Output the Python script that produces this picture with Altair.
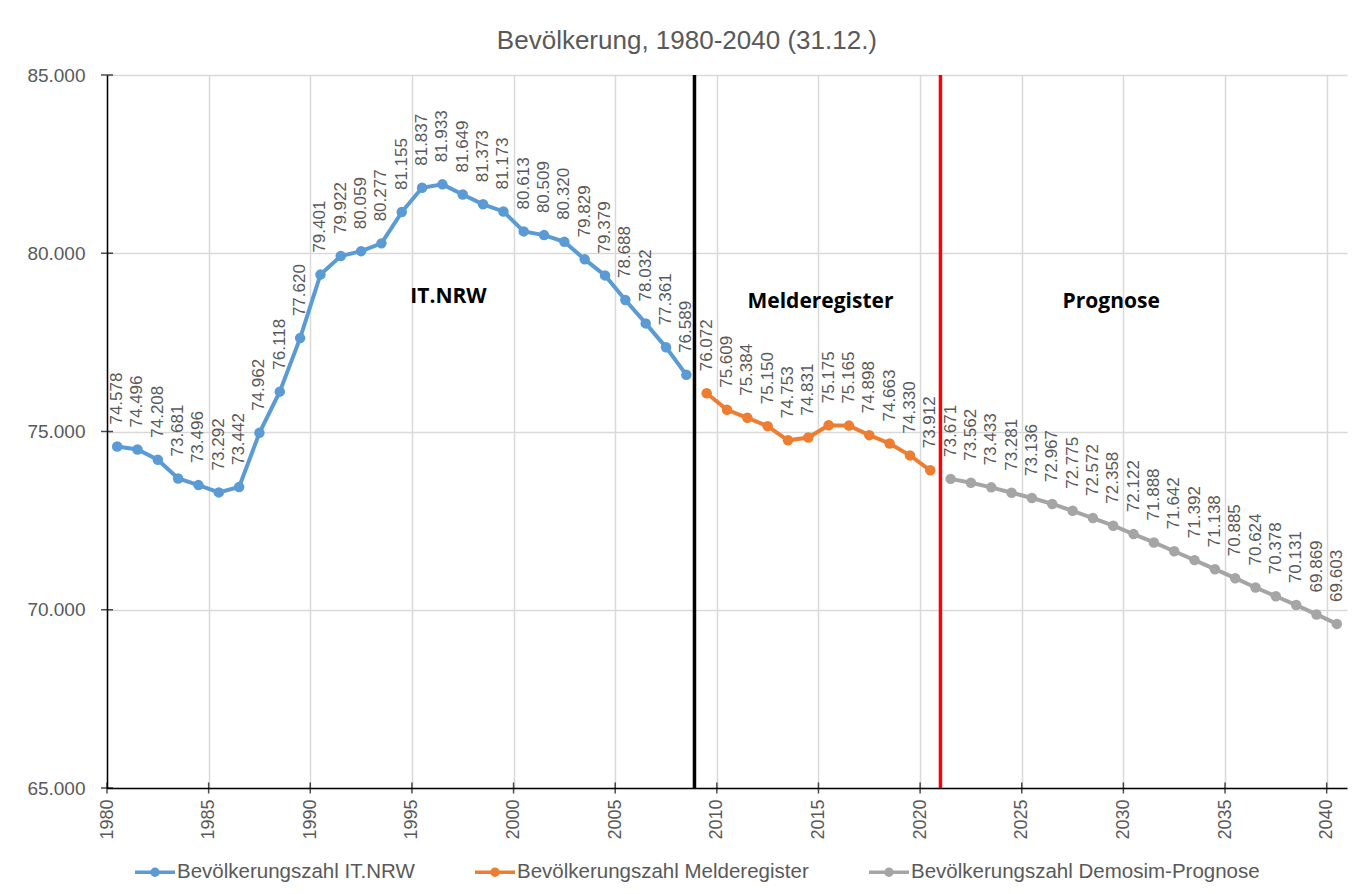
import altair as alt
import pandas as pd

# ---------------- data ----------------
years_itnrw = list(range(1980, 2009))
values_itnrw = [74578, 74496, 74208, 73681, 73496, 73292, 73442, 74962, 76118, 77620,
                79401, 79922, 80059, 80277, 81155, 81837, 81933, 81649, 81373, 81173,
                80613, 80509, 80320, 79829, 79379, 78688, 78032, 77361, 76589]
years_melde = list(range(2009, 2021))
values_melde = [76072, 75609, 75384, 75150, 74753, 74831, 75175, 75165, 74898, 74663,
                74330, 73912]
years_prog = list(range(2021, 2041))
values_prog = [73671, 73562, 73433, 73281, 73136, 72967, 72775, 72572, 72358, 72122,
               71888, 71642, 71392, 71138, 70885, 70624, 70378, 70131, 69869, 69603]

series_names = ["Bevölkerungszahl IT.NRW", "Bevölkerungszahl Melderegister",
                "Bevölkerungszahl Demosim-Prognose"]
series_colors = ["#5B9BD5", "#ED7D31", "#A5A5A5"]

x_ticks = list(range(1980, 2041, 5))
y_ticks = list(range(65000, 85001, 5000))

divider_x = [2008.9, 2021.0]
divider_colors = ["#000000", "#FF0000"]

annotation_texts = ["IT.NRW", "Melderegister", "Prognose"]
annotation_x = [1996.8, 2015.1, 2029.4]
annotation_y = [78773, 78633, 78633]

title_text = "Bevölkerung, 1980-2040 (31.12.)"

# ---------------- tables ----------------
rows = []
for name, ys, vs in zip(series_names, [years_itnrw, years_melde, years_prog],
                        [values_itnrw, values_melde, values_prog]):
    for y, v in zip(ys, vs):
        rows.append({"series": name, "year": y, "value": v})
df = pd.DataFrame(rows)

ann_df = pd.DataFrame({"x": annotation_x, "y": annotation_y, "t": annotation_texts})
xt_df = pd.DataFrame({"x": x_ticks})
yt_df = pd.DataFrame({"y": y_ticks})

FONT = "Liberation Sans"
GRAY_TXT = "#595959"

x_scale = alt.Scale(domain=[1980, 2041], nice=False, zero=False)
y_scale = alt.Scale(domain=[65000, 85000], nice=False, zero=False)

x_axis = alt.Axis(values=x_ticks, format="d", labelAngle=270, title=None,
                  labelPadding=11, labelFontSize=18, grid=True)
y_axis = alt.Axis(values=y_ticks, title=None, labelPadding=22, labelFontSize=19,
                  grid=True,
                  labelExpr="replace(format(datum.value, ','), ',', '.')")

symbol_path = ("M-1,0H1"
               "M0.15,0A0.15,0.15,0,1,1,-0.15,0A0.15,0.15,0,1,1,0.15,0"
               "M0.06,0A0.06,0.06,0,1,1,-0.06,0A0.06,0.06,0,1,1,0.06,0")

base = alt.Chart(df).transform_calculate(
    xpos="datum.year + 0.5",
    label="replace(format(datum.value, ','), ',', '.')"
)

lines = base.mark_line(
    strokeWidth=4,
    point=alt.OverlayMarkDef(size=110, filled=True)
).encode(
    x=alt.X("xpos:Q", scale=x_scale, axis=x_axis),
    y=alt.Y("value:Q", scale=y_scale, axis=y_axis),
    color=alt.Color(
        "series:N",
        scale=alt.Scale(domain=series_names, range=series_colors),
        sort=series_names,
        legend=alt.Legend(
            orient="none", legendX=26, legendY=775, direction="horizontal",
            title=None, symbolType=symbol_path, symbolSize=1600,
            symbolStrokeWidth=3.5, columnPadding=53, labelOffset=0, padding=0,
            labelFontSize=20.5, labelFont=FONT, labelColor=GRAY_TXT,
            labelLimit=500
        ),
    ),
    order=alt.Order("xpos:Q"),
)

labels = base.mark_text(
    angle=270, align="left", baseline="middle", dx=22,
    fontSize=17, font=FONT, color=GRAY_TXT
).encode(
    x=alt.X("xpos:Q", scale=x_scale, axis=x_axis),
    y=alt.Y("value:Q", scale=y_scale, axis=y_axis),
    text="label:N",
)

div_layers = []
for dx_val, dcol in zip(divider_x, divider_colors):
    div_layers.append(
        alt.Chart(pd.DataFrame({"x": [dx_val]})).mark_rule(
            strokeWidth=3.5, color=dcol
        ).encode(x=alt.X("x:Q", scale=x_scale, axis=x_axis))
    )

annotations = alt.Chart(ann_df).mark_text(
    font="Open Sans", fontWeight="bold", fontSize=21, color="black",
    align="center", baseline="middle"
).encode(
    x=alt.X("x:Q", scale=x_scale, axis=x_axis),
    y=alt.Y("y:Q", scale=y_scale, axis=y_axis),
    text="t:N",
)

x_tick_marks = alt.Chart(xt_df).mark_tick(
    orient="vertical", size=11, thickness=1.5, color="black"
).encode(
    x=alt.X("x:Q", scale=x_scale, axis=x_axis),
    y=alt.Y(datum=65000, scale=y_scale, axis=y_axis),
)

y_tick_marks = alt.Chart(yt_df).mark_tick(
    orient="horizontal", size=12, thickness=1.5, color="black"
).encode(
    y=alt.Y("y:Q", scale=y_scale, axis=y_axis),
    x=alt.X(datum=1980, scale=x_scale, axis=x_axis),
)

chart = alt.layer(
    *div_layers, lines, labels, annotations, x_tick_marks, y_tick_marks
).properties(
    width=1240,
    height=713,
    autosize=alt.AutoSizeParams(type="none"),
    padding={"left": 99, "top": 67, "right": 10, "bottom": 96},
    title=alt.TitleParams(
        text=title_text, fontSize=26, font=FONT, color=GRAY_TXT,
        fontWeight="normal", anchor="middle", frame="bounds", offset=12
    ),
).configure_view(
    strokeWidth=0
).configure_axis(
    domainColor="black", domainWidth=1.5,
    gridColor="#D9D9D9", gridWidth=1.5,
    labelFont=FONT, labelColor=GRAY_TXT,
    ticks=False, tickSize=0,
)

chart.save("out.html", embed_options={"renderer": "svg", "actions": False})
